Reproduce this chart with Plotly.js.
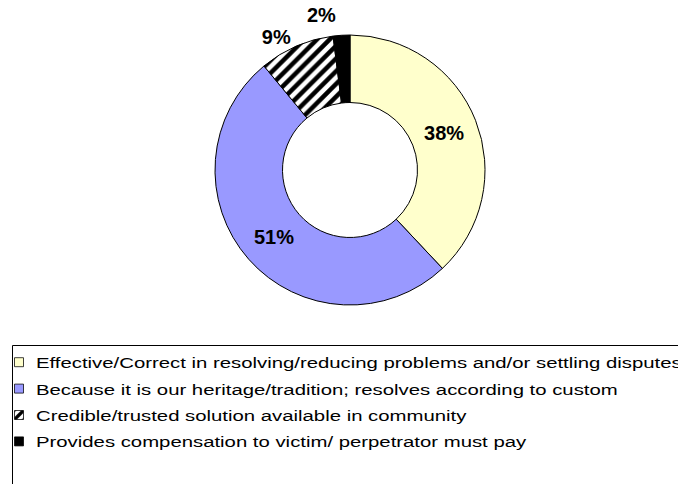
<!DOCTYPE html>
<html>
<head>
<meta charset="utf-8">
<script src="https://cdn.plot.ly/plotly-3.0.1.min.js"></script>
<style>
html,body{margin:0;padding:0;background:#fff;}
#chart{width:678px;height:484px;}
#chart path.textline{display:none;}
text.legendtext{transform:scale(1.13,0.83);transform-box:fill-box;transform-origin:left center;}
#chart .legend .scrollbox{clip-path:none !important;}
#chart path.legendpie{transform:translate(23px,0px) scale(0.75);}
</style>
</head>
<body>
<div id="chart"></div>
<script>
const categories = [
  "Effective/Correct in resolving/reducing problems and/or settling disputes",
  "Because it is our heritage/tradition; resolves according to custom",
  "Credible/trusted solution available in community",
  "Provides compensation to victim/ perpetrator must pay"
];
const percentages = [38, 51, 9, 2];
const sliceColors = ["#FFFFCC", "#9999FF", "#FFFFFF", "#000000"];
const slicePatterns = ["", "", "/", ""];
const labelPositions = ["inside", "inside", "outside", "outside"];

const labelFont = {family: "Liberation Sans, Arial, sans-serif", size: 20, color: "#000", weight: "bold"};

const trace = {
  type: "pie",
  labels: categories,
  values: percentages,
  sort: false,
  direction: "clockwise",
  rotation: 0,
  hole: 0.5,
  textinfo: "percent",
  texttemplate: "%{value}%",
  textposition: labelPositions,
  insidetextorientation: "horizontal",
  textfont: labelFont,
  outsidetextfont: labelFont,
  insidetextfont: labelFont,
  marker: {
    colors: sliceColors,
    line: {color: "#000", width: 1},
    pattern: {shape: slicePatterns, fgcolor: "#000", bgcolor: "#FFFFFF", size: 9, solidity: 0.5}
  },
  domain: {x: [215/678, 485/678], y: [(484-305)/484, (484-35)/484]},
  hoverinfo: "label+percent"
};

const layout = {
  width: 678,
  height: 484,
  margin: {l: 0, r: 0, t: 0, b: 0, autoexpand: false},
  paper_bgcolor: "#fff",
  showlegend: true,
  legend: {
    x: -4/678, xanchor: "left",
    y: (484-344)/484, yanchor: "top",
    borderwidth: 0,
    bgcolor: "rgba(0,0,0,0)",
    font: {family: "Liberation Sans, Arial, sans-serif", size: 18, color: "#000"}
  },
  shapes: [{
    type: "rect", xref: "paper", yref: "paper",
    x0: 12.5/678, x1: 1.1, y0: -0.1, y1: (484-345.5)/484,
    line: {color: "#000", width: 1}, fillcolor: "rgba(0,0,0,0)"
  }]
};

Plotly.newPlot("chart", [trace], layout, {displayModeBar: false, staticPlot: true});
</script>
</body>
</html>
